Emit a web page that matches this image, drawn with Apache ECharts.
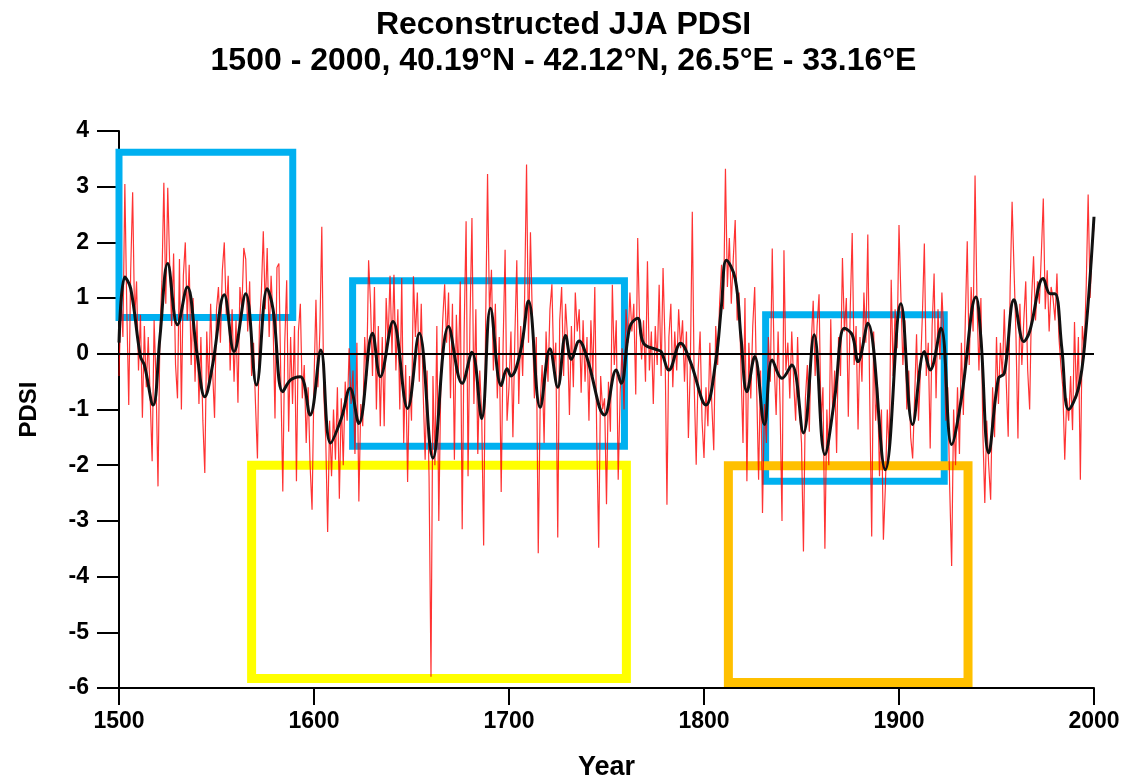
<!DOCTYPE html>
<html>
<head>
<meta charset="utf-8">
<title>Reconstructed JJA PDSI</title>
<script src="https://cdn.jsdelivr.net/npm/echarts@6/dist/echarts.min.js"></script>
<style>
  html, body { margin: 0; padding: 0; background: #fff; }
  #chart { width: 1127px; height: 783px; }
</style>
</head>
<body>
<div id="chart"></div>
<script>
// annual reconstructed PDSI, 1500 - 2000 (one row per decade)
var startYear = 1500;
var pdsi = [
  -0.4, 1.0, 0.3, 3.05, 0.8, -0.92, 1.5, 2.9, 0.6, 1.3,
  -0.3, 0.7, -1.15, 0.5, -0.6, 0.3, -0.8, -1.93, 0.6, -0.5,
  -2.38, 0.4, 1.3, 3.07, 0.9, 2.98, 1.6, 0.5, 1.8, -0.2,
  -0.8, 1.7, -1.0, 1.4, 2.0, 0.6, 1.6, -0.2, 1.0, -0.5,
  0.6, -0.9, 0.3, -1.2, -2.14, 0.4, -0.6, 0.9, -0.3, -1.15,
  0.8, 1.2, 0.2, 1.5, 2.0, 0.7, 1.4, -0.3, 0.8, -0.5,
  0.6, -0.88, 1.2, 0.8, 1.9, 1.7, 0.4, 1.3, -0.4, 0.2,
  -0.9, -1.88, 0.5, 1.1, 2.2, 0.8, 1.9, 0.3, 1.4, 0.6,
  -1.16, 1.55, 1.62, -0.5, -2.47, 0.2, 1.32, -1.4, 0.3, -0.9,
  0.5, -2.29, 0.4, 0.9, -0.8, -0.2, -1.6, -0.6, -2.0, -2.8,
  -0.5, 0.97, -0.6, 0.4, 2.28, -0.7, -1.5, -3.2, -1.2, -2.2,
  -1.0, -1.9, -0.6, -2.6, -0.8, -2.0, -0.5, -1.2, 0.1, -0.9,
  -0.3, -1.8, 0.2, -2.65, -0.9, -1.3, 0.3, -0.4, 1.68, 0.9,
  -0.4, 1.2, -1.0, 0.5, -1.3, 0.3, -1.3, 1.0, 0.2, 1.4,
  0.0, 1.42, -0.3, 0.8, -1.0, 1.36, -1.6, -0.2, -2.3, -0.4,
  -1.2, 1.39, 0.3, 1.1, -0.5, 0.9, -0.7, -1.9, -0.3, -2.2,
  -5.8, -0.4, -2.0, 0.5, -3.0, -0.6, 0.6, 1.25, 0.2, 1.1,
  -0.8, 0.9, -1.9, 0.7, -0.4, 1.3, -3.15, 0.4, 2.38, -2.2,
  0.6, 2.44, -0.9, 0.8, -1.8, -0.3, -1.1, -3.44, 0.5, 3.23,
  0.7, 1.51, -0.3, 0.9, -0.8, 0.3, -2.48, 0.2, 1.87, -1.2,
  -0.6, 0.4, -1.5, 0.3, 1.68, -0.9, 0.5, -0.4, 1.0, 3.4,
  0.2, 2.18, 0.6, -0.8, 0.3, -3.58, -0.9, -0.2, -1.6, 0.4,
  -0.5, 0.8, 1.25, -0.3, 0.2, -3.3, 0.6, 1.2, -0.4, 0.9,
  0.3, -1.1, 0.5, -0.6, 1.1, 0.4, 0.8, -0.7, 0.6, -0.5,
  0.3, -1.2, 0.6, -0.4, 1.2, -1.5, -3.48, -0.4, -1.0, -0.8,
  -2.7, -0.5, -1.4, 1.24, -0.2, 0.6, -2.26, -0.7, 0.1, -1.0,
  0.8, 0.2, 1.1, 0.4, 0.9, -0.73, 2.08, 0.5, -0.1, 0.6,
  -0.5, 1.66, -0.3, 0.4, -0.9, 0.5, -0.2, 1.24, -0.4, 1.54,
  0.2, -2.71, 0.3, 0.9, -0.6, 0.4, -0.3, 0.8, 0.1, 0.6,
  -0.5, 0.4, -1.51, -0.2, 2.55, -0.6, -1.99, -0.3, 0.4, -1.2,
  -1.87, -0.6, -1.3, 0.2, -0.9, -1.73, 0.5, -0.2, 0.9, 1.6,
  0.8, 3.32, 1.2, 2.08, 0.9, 1.7, 2.4, 0.6, 1.1, -0.3,
  -1.6, 1.0, -2.29, 0.2, -0.8, 0.5, 1.2, -0.6, -2.26, -0.3,
  -2.86, -0.9, -1.6, 0.3, -0.5, 1.89, -0.2, -1.1, 0.4, -0.9,
  -3.0, 1.86, -0.3, 0.2, -0.8, 0.4, -0.5, -1.2, 0.3, -1.0,
  -1.6, -3.55, -0.8, -0.2, -1.4, 0.2, 0.95, -0.4, 0.5, 1.07,
  -1.2, -0.6, -3.5, -1.0, -2.0, 0.62, -1.1, -0.3, -1.78, 0.3,
  -0.4, 1.72, 0.4, 1.0, -1.13, 0.8, 2.17, -0.2, 0.5, -1.36,
  0.3, -0.5, 1.1, 0.2, 2.14, -0.8, -3.28, 0.4, -1.2, -0.6,
  -2.2, -1.0, -3.34, -2.4, -1.0, -1.8, 1.33, -0.4, 0.8, 0.1,
  2.31, 1.0, -0.2, 0.6, -1.0, -0.3, -1.5, -1.88, -0.8, 0.35,
  -1.2, -0.3, 0.7, 1.98, -0.4, 0.2, -1.7, 0.5, 1.44, -0.8,
  0.8, -0.1, 1.1, 0.3, -1.2, -0.6, -2.4, -3.81, -1.0, -2.0,
  -0.6, -1.8, 0.2, -1.1, 0.6, 2.02, -0.2, 1.2, 0.4, 3.2,
  0.9, -0.3, 1.0, -1.4, -2.68, -1.2, -2.0, -2.62, -0.6, -1.5,
  0.3, -0.9, 0.2, -0.4, 0.8, -0.5, -1.49, 1.2, 2.73, 1.5,
  0.3, -1.52, 0.9, -0.2, 0.6, 1.3, -0.3, -1.0, 1.0, 1.75,
  0.6, 1.3, 0.9, 1.8, 2.79, 0.8, 1.5, 0.4, 1.2, 1.0,
  0.6, 1.44, 0.3, -0.2, -0.6, -1.9, -0.8, -1.2, -0.4, -1.37,
  0.57, -0.8, 0.3, -2.26, 0.5, 0.1, 1.2, 2.86, 1.0, 1.9,
  2.3
];

// smoothed curve, read at its turning points
var smoothYears = [
  1500, 1503, 1506, 1511, 1513, 1517.5, 1521, 1525, 1530, 1535, 1540, 1544, 1548,
  1554, 1559, 1565, 1570.5, 1576, 1579, 1584, 1588, 1593, 1598, 1603.5, 1608.5,
  1614, 1618.5, 1623, 1630, 1634, 1640.5, 1648, 1654, 1661, 1669, 1676, 1681,
  1686, 1690.5, 1696, 1699, 1701, 1706, 1710, 1716, 1721, 1725, 1729, 1732, 1736,
  1740, 1749, 1755, 1757.5, 1762, 1766, 1769, 1776, 1778, 1782, 1788, 1793, 1801,
  1806, 1809, 1811.5, 1816, 1819, 1822, 1826, 1831, 1835, 1840, 1845, 1851, 1856.5,
  1862, 1867, 1872, 1876, 1879, 1884, 1893, 1901, 1907, 1913, 1916, 1921.5, 1927,
  1932, 1939.5, 1942, 1946, 1951, 1954, 1959, 1964, 1967, 1974, 1977.5, 1980,
  1983.5, 1987, 1992, 1995.5, 2000
];
var smoothValues = [
  0.2, 1.38, 1.17, -0.05, -0.2, -0.92, 0.3, 1.62, 0.52, 1.2, 0.0, -0.77, -0.2,
  1.06, 0.04, 1.08, -0.56, 1.17, 0.8, -0.68, -0.47, -0.41, -1.1, 0.07, -1.6,
  -1.16, -0.62, -1.25, 0.37, -0.41, 0.58, -0.98, 0.37, -1.87, 0.49, -0.53, 0.03,
  -1.16, 0.82, -0.57, -0.27, -0.4, 0.06, 0.95, -0.96, 0.09, -0.6, 0.33, -0.1, 0.23,
  -0.07, -1.1, -0.29, -0.53, 0.49, 0.64, 0.19, 0.07, 0.04, -0.29, 0.19, -0.14, -0.92,
  -0.14, 0.88, 1.68, 1.35, 0.28, -0.68, -0.05, -1.27, -0.11, -0.44, -0.2, -1.42, 0.34,
  -1.81, -0.8, 0.46, 0.34, -0.14, 0.55, -2.08, 0.9, -1.27, 0.04, -0.29, 0.46, -1.63,
  -0.8, 1.02, 0.28, -1.78, -0.44, -0.35, 0.97, 0.22, 0.4, 1.35, 1.08, 1.08,
  0.1, -1.0, -0.62, 0.28, 2.46
];

// highlighted periods: [yearFrom, yearTo, pdsiTop, pdsiBottom]
var wetBoxes = [
  [1497.8, 1589.1, 3.62, 0.65],
  [1619.8, 1759.2, 1.31, -1.66],
  [1831.6, 1923.2, 0.70, -2.29]
];
var dryBoxYellow = [1568.0, 1760.2, -2.0, -5.83];
var dryBoxOrange = [1812.5, 1935.4, -2.01, -5.9];

var chart = echarts.init(document.getElementById('chart'));

var font = "'Liberation Sans', Arial, sans-serif";
var redData = pdsi.map(function (v, i) { return [startYear + i, v]; });
var blackData = smoothYears.map(function (y, i) { return [y, smoothValues[i]]; });

function box(b, color, width) {
  return [
    { coord: [b[0], b[2]], itemStyle: { color: 'rgba(0,0,0,0)', borderColor: color, borderWidth: width } },
    { coord: [b[1], b[3]] }
  ];
}

var areas = wetBoxes.map(function (b) { return box(b, '#00b0f0', 7); });
areas.push(box(dryBoxYellow, '#ffff00', 9));
areas.push(box(dryBoxOrange, '#ffc000', 9));

var option = {
  animation: false,
  title: [
    {
      text: 'Reconstructed JJA PDSI',
      left: 'center', top: 4,
      textStyle: { fontFamily: font, fontWeight: 'bold', fontSize: 32, color: '#000' }
    },
    {
      text: '1500 - 2000, 40.19°N - 42.12°N, 26.5°E - 33.16°E',
      left: 'center', top: 40,
      textStyle: { fontFamily: font, fontWeight: 'bold', fontSize: 32, color: '#000' }
    }
  ],
  grid: { left: 119, right: 33, top: 131, bottom: 95, outerBoundsMode: 'none' },
  xAxis: {
    type: 'value',
    min: 1500, max: 2000, interval: 100,
    name: 'Year',
    nameLocation: 'middle',
    nameGap: 66,
    nameTextStyle: { fontFamily: font, fontWeight: 'bold', fontSize: 27, color: '#000' },
    axisLine: { onZero: false, lineStyle: { color: '#000', width: 2 } },
    axisTick: { length: 17, lineStyle: { color: '#000', width: 2 } },
    axisLabel: {
      margin: 22, fontFamily: font, fontWeight: 'bold', fontSize: 23, color: '#000',
      formatter: function (v) { return String(v); }
    },
    splitLine: { show: false }
  },
  yAxis: {
    type: 'value',
    min: -6, max: 4, interval: 1,
    name: 'PDSI',
    nameLocation: 'middle',
    nameGap: 78,
    nameTextStyle: { fontFamily: font, fontWeight: 'bold', fontSize: 24, color: '#000' },
    axisLine: { show: true, lineStyle: { color: '#000', width: 2 } },
    axisTick: { show: true, length: 22, lineStyle: { color: '#000', width: 2 } },
    axisLabel: { margin: 30, fontFamily: font, fontWeight: 'bold', fontSize: 23, color: '#000' },
    splitLine: { show: false }
  },
  series: [
    {
      name: 'PDSI',
      type: 'line',
      data: redData,
      showSymbol: false,
      lineStyle: { color: '#ff0000', width: 1.2, opacity: 0.8 },
      z: 2
    },
    {
      name: 'smoothed',
      type: 'line',
      data: blackData,
      smooth: 0.4,
      showSymbol: false,
      lineStyle: { color: '#111', width: 3 },
      markLine: {
        silent: true,
        symbol: 'none',
        label: { show: false },
        lineStyle: { color: '#000', width: 2, type: 'solid' },
        data: [{ yAxis: 0 }]
      },
      z: 3
    },
    {
      name: 'periods',
      type: 'line',
      data: [],
      markArea: { silent: true, data: areas },
      z: 4
    }
  ]
};

chart.setOption(option);
</script>
</body>
</html>
